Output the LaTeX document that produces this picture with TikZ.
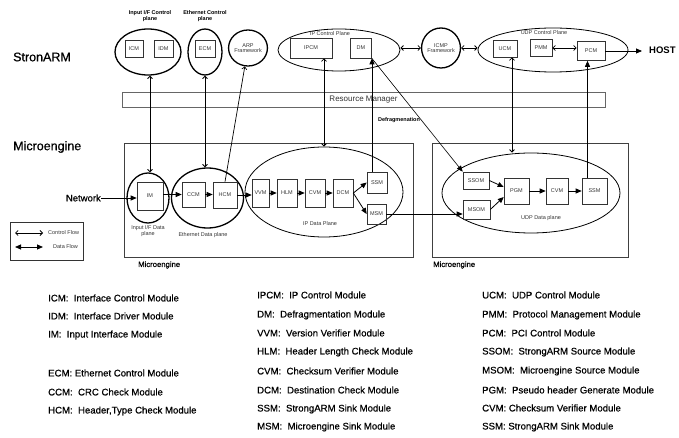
\documentclass[tikz,border=0pt]{standalone}
\usepackage{fontspec}
\setmainfont{Liberation Sans}
\newfontfamily\legfont{Liberation Sans}[FakeBold=0.5]
\usetikzlibrary{arrows.meta,shapes.geometric,calc}
\newcommand\fsz[1]{\fontsize{#1}{#1}\selectfont}
\begin{document}
\begin{tikzpicture}[x=1pt,y=-1pt,
  mod/.style={draw=black!80, line width=0.6pt, inner sep=0pt, font=\fsz{5.5}, text=black!80},
  plane/.style={draw, ellipse, line width=1.3pt, inner sep=0pt},
  bigplane/.style={draw, ellipse, line width=0.8pt, inner sep=0pt},
  frame/.style={draw=black!75, line width=0.8pt, inner sep=0pt},
  small/.style={font=\fsz{5.5}, text=black!80, align=center, inner sep=0pt},
  smallb/.style={font=\fsz{5.5}\bfseries, align=center, inner sep=0pt},
  ctrl/.style={line width=0.8pt, {Straight Barb[length=2.5pt,width=5pt]}-{Straight Barb[length=2.5pt,width=5pt]}},
  ctrlone/.style={line width=0.7pt, -{Straight Barb[length=2.5pt,width=5pt]}},
  data/.style={line width=0.8pt, -{Triangle[length=6pt,width=5pt]}},
  datab/.style={line width=0.8pt, {Triangle[length=6pt,width=5pt]}-{Triangle[length=6pt,width=5pt]}},
  leg/.style={font=\legfont\fsz{9.6}, anchor=west, inner sep=0pt},
  big/.style={font=\legfont\fsz{12.5}, anchor=west, inner sep=0pt}
]
\useasboundingbox (0,0) rectangle (679,438);

% side labels
\node[big] (SA) at (13,57) {StronARM};
\node[big] (ME) at (13,147) {Microengine};

% ---------- StrongARM control planes ----------
\node[smallb] (t1) at (150,16) {Input I/F Control\\plane};
\node[smallb] (t2) at (205,16) {Ethernet Control\\plane};
\node[plane, minimum width=66pt, minimum height=46pt] (E1) at (148,52) {};
\node[mod, minimum width=18pt, minimum height=17pt] (ICM) at (134,48.5) {ICM};
\node[mod, minimum width=19pt, minimum height=17pt] (IDM) at (163.5,48.5) {IDM};
\node[plane, minimum width=34pt, minimum height=46pt] (E2) at (205,52) {};
\node[mod, minimum width=20pt, minimum height=17pt] (ECM) at (205,48.5) {ECM};
\node[plane, small, minimum width=37pt, minimum height=36pt] (ARP) at (248,48) {ARP\\Framework};

\node[bigplane, minimum width=122pt, minimum height=42pt] (IPC) at (339,50) {};
\node[small] (IPCl) at (330,34) {IP Control Plane};
\node[mod, minimum width=42pt, minimum height=20pt] (IPCM) at (311,48) {IPCM};
\node[mod, minimum width=21pt, minimum height=20pt] (DM) at (361,48) {DM};
\node[plane, small, minimum width=37pt, minimum height=40pt] (ICMP) at (441,48) {ICMP\\Framework};
\node[bigplane, minimum width=150pt, minimum height=44pt] (UDPC) at (553,50) {};
\node[small] (UDPCl) at (544,33) {UDP Control Plane};
\node[mod, minimum width=24pt, minimum height=17pt] (UCM) at (505,48.5) {UCM};
\node[mod, minimum width=22pt, minimum height=17pt] (PMM) at (541,48) {PMM};
\node[mod, minimum width=28pt, minimum height=19pt] (PCM) at (591,51) {PCM};
\node[font=\fsz{9.5}\bfseries, anchor=west, inner sep=0pt] (HOST) at (649,50) {HOST};

% resource manager
\node[frame, draw=black!60, minimum width=483pt, minimum height=15pt, font=\fsz{8}, text=black!80] (RM) at (363.5,99.5) {Resource Manager};

% ---------- Microengines ----------
\node[frame, minimum width=289pt, minimum height=114pt] (ME1) at (268.5,200) {};
\node[frame, minimum width=196pt, minimum height=114pt] (ME2) at (530,200) {};
\node[font=\legfont\fsz{7.7}, anchor=west, inner sep=0pt] (ME1l) at (138,265) {Microengine};
\node[font=\legfont\fsz{7.7}, anchor=west, inner sep=0pt] (ME2l) at (433,265) {Microengine};

\node[font=\legfont\fsz{9.5}, anchor=east, inner sep=0pt] (NET) at (101,198) {Network};

\node[plane, minimum width=42pt, minimum height=50pt] (IMe) at (148,198) {};
\node[mod, minimum width=26pt, minimum height=28pt] (IM) at (150,196) {IM};
\node[small] (IMl) at (148,231) {Input I/F Data\\plane};

\node[plane, minimum width=72pt, minimum height=60pt] (ETH) at (207.5,198) {};
\node[mod, minimum width=23pt, minimum height=25pt] (CCM) at (193.5,194.5) {CCM};
\node[mod, minimum width=24pt, minimum height=26pt] (HCM) at (225,195) {HCM};
\node[small] (ETHl) at (203,235) {Ethernet Data plane};

\node[bigplane, minimum width=158pt, minimum height=90pt] (IPD) at (324,192) {};
\node[mod, minimum width=17pt, minimum height=28pt] (VVM) at (260.5,193) {VVM};
\node[mod, minimum width=20pt, minimum height=28pt] (HLM) at (287,193) {HLM};
\node[mod, minimum width=20pt, minimum height=28pt] (CVM) at (315,193) {CVM};
\node[mod, minimum width=20pt, minimum height=28pt] (DCM) at (343,193) {DCM};
\node[mod, minimum width=20pt, minimum height=21pt] (SSM) at (377,182.5) {SSM};
\node[mod, minimum width=19pt, minimum height=20pt] (MSM) at (376.5,214) {MSM};
\node[small] (IPDl) at (320,224) {IP Data Plane};

\node[bigplane, minimum width=178pt, minimum height=80pt] (UDPD) at (531,193) {};
\node[mod, minimum width=26pt, minimum height=17pt] (SSOM) at (476,180.5) {SSOM};
\node[mod, minimum width=27pt, minimum height=19pt] (MSOM) at (476.5,209.5) {MSOM};
\node[mod, minimum width=25pt, minimum height=26pt] (PGM) at (516.5,191) {PGM};
\node[mod, minimum width=22pt, minimum height=26pt] (CVMb) at (557,191) {CVM};
\node[mod, minimum width=25pt, minimum height=26pt] (SSMb) at (594.5,191) {SSM};
\node[small] (UDPDl) at (541,218) {UDP Data plane};

\node[smallb] (DEF) at (399,120) {Defragmenation};

% ---------- connectors ----------
\draw[ctrl] (IM.north |- E1.south) -- (IM.north |- IMe.north);
\draw[ctrl] (E2.south) -- (E2.south |- ETH.north);
\draw[ctrlone] (HCM.north) -- (ARP);
\draw[ctrl] (IPCM.south -| IPD.north) -- (IPD.north);
\draw[data] ([xshift=-5pt]SSM.north) -- ([xshift=-5pt]SSM.north |- DM.south);
\draw[data, line width=0.6pt] (DM.south east) -- (SSOM.north west);
\draw[ctrl] (IPC.east |- ICMP.west) -- (ICMP.west);
\draw[ctrl] (ICMP.east) -- (ICMP.east -| UDPC.west);
\draw[ctrl] (PMM.east) -- (PMM.east -| PCM.west);
\draw[data, shorten >=7pt] (PCM.east) -- (PCM.east -| HOST.west);
\draw[ctrl] ([xshift=7pt]UCM.south) -- ([xshift=7pt]UCM.south |- UDPD.north);
\draw[data] ([xshift=-7pt]SSMb.north) -- ([xshift=-7pt]SSMb.north |- PCM.south);

\draw[data] (NET.east) -- (NET.east -| IM.west);
\draw[data] (IM.east |- CCM.west) -- (CCM.west);
\draw[data] (CCM.east) -- (CCM.east -| HCM.west);
\draw[data] (HCM.east) -- (HCM.east -| VVM.west);
\draw[data] (VVM) -- (HLM);
\draw[data] (HLM) -- (CVM);
\draw[data] (CVM) -- (DCM);
\draw[data] (DCM.east) -- (SSM.west);
\draw[data] (DCM.east) -- (MSM.west);
\draw[data] (MSM.east) -- (MSM.east -| MSOM.west);
\draw[data] (SSOM.east) -- ($(PGM.west)+(0,-4)$);
\draw[data] (MSOM.east) -- ($(PGM.west)+(0,6)$);
\draw[data] (PGM) -- (CVMb);
\draw[data] (CVMb) -- (SSMb);

% ---------- flow legend ----------
\node[frame, draw=black!80, minimum width=73pt, minimum height=38pt] (LEG) at (46.5,241) {};
\coordinate (cfa) at (15,233);
\coordinate (cfb) at (43,233);
\coordinate (dfa) at (15,247);
\coordinate (dfb) at (43,247);
\draw[ctrl] (cfa) -- (cfb);
\draw[datab] (dfa) -- (dfb);
\node[small, anchor=west] (CFl) at (48,233) {Control Flow};
\node[small, anchor=west] (DFl) at (53,247) {Data Flow};

% ---------- abbreviations ----------
\node[leg] (a1) at (48,298) {ICM:\ \ Interface Control Module};
\node[leg] (a2) at (48,316) {IDM:\ \ Interface Driver Module};
\node[leg] (a3) at (48,335) {IM:\ \ Input Interface Module};
\node[leg] (a4) at (48,373) {ECM: Ethernet Control Module};
\node[leg] (a5) at (48,392) {CCM:\ \ CRC Check Module};
\node[leg] (a6) at (48,411) {HCM:\ \ Header,Type Check Module};

\node[leg] (b1) at (257,295) {IPCM:\ \ IP Control Module};
\node[leg] (b2) at (257,315) {DM:\ \ Defragmentation Module};
\node[leg] (b3) at (257,333) {VVM:\ \ Version Verifier Module};
\node[leg] (b4) at (257,352) {HLM:\ \ Header Length Check Module};
\node[leg] (b5) at (257,371) {CVM:\ \ Checksum Verifier Module};
\node[leg] (b6) at (257,390) {DCM:\ \ Destination Check Module};
\node[leg] (b7) at (257,409) {SSM:\ \ StrongARM Sink Module};
\node[leg] (b8) at (257,427) {MSM:\ \ Microengine Sink Module};

\node[leg] (c1) at (482,295) {UCM:\ \ UDP Control Module};
\node[leg] (c2) at (482,315) {PMM:\ \ Protocol Management Module};
\node[leg] (c3) at (482,333) {PCM:\ \ PCI Control Module};
\node[leg] (c4) at (482,352) {SSOM:\ \ StrongARM Source Module};
\node[leg] (c5) at (482,371) {MSOM:\ \ Microengine Source Module};
\node[leg] (c6) at (482,390) {PGM:\ \ Pseudo header Generate Module};
\node[leg] (c7) at (482,408) {CVM: Checksum Verifier Module};
\node[leg] (c8) at (482,427) {SSM: StrongARM Sink Module};
\end{tikzpicture}
\end{document}
